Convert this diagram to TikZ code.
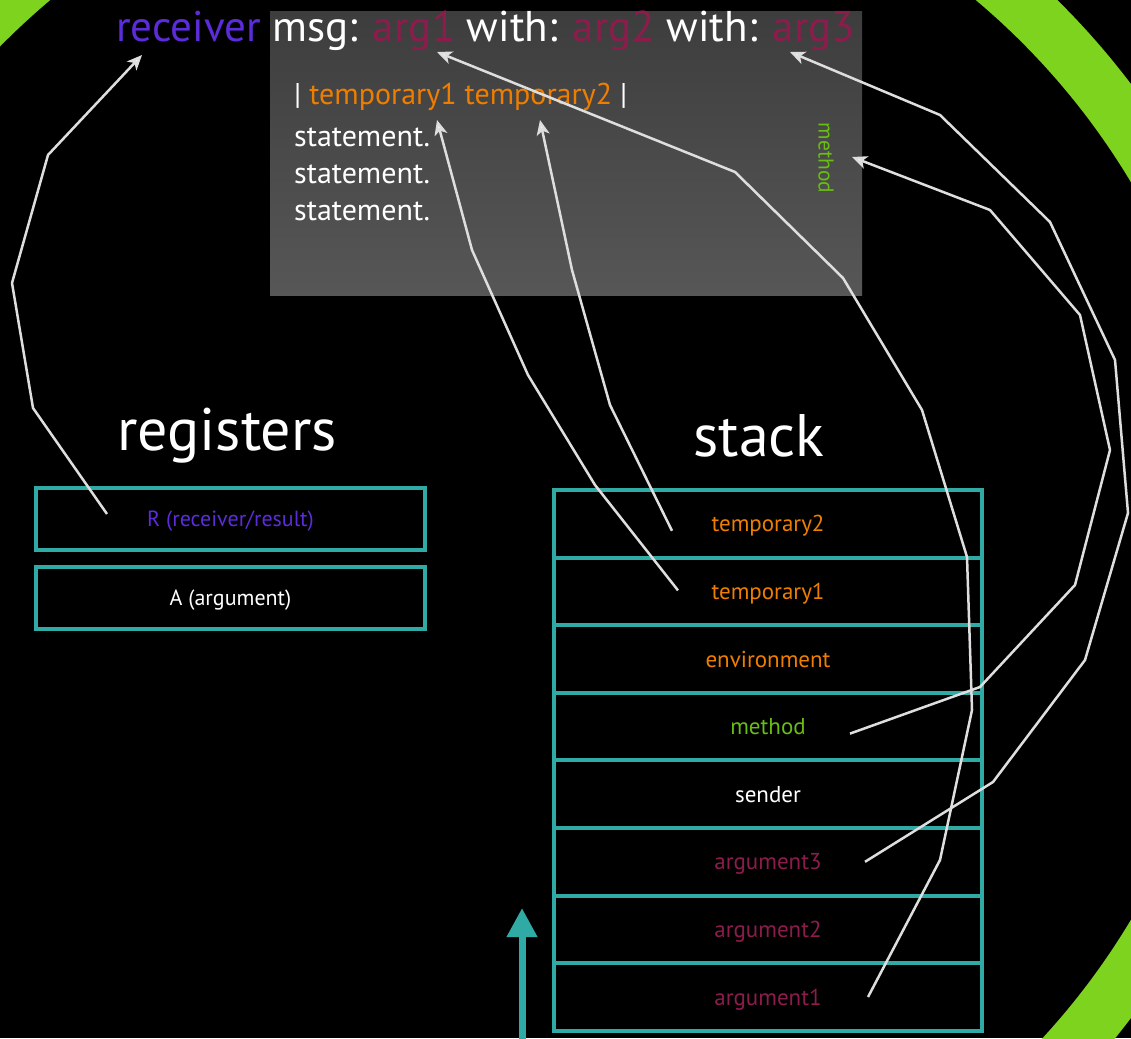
\documentclass[tikz,border=0pt]{standalone}
\usepackage{fontspec}
\setmainfont{PT Sans}
\usetikzlibrary{arrows.meta}

\definecolor{ringgreen}{RGB}{126,211,30}
\definecolor{slotteal}{RGB}{48,170,164}
\definecolor{recvpurple}{RGB}{92,44,218}
\definecolor{argred}{RGB}{140,28,76}
\definecolor{tmporange}{RGB}{238,126,0}
\definecolor{methgreen}{RGB}{104,190,18}
\definecolor{linkgray}{RGB}{222,222,222}

\def\cellw{428}
\def\cellh{67.6}

\begin{document}
\begin{tikzpicture}[x=1pt,y=-1pt,
    cell/.style={draw=slotteal,line width=4pt,minimum width=\cellw pt,
      minimum height=\cellh pt,inner sep=0pt,outer sep=0pt,text depth=0pt,
      font=\fontsize{23}{26}\selectfont},
    reg/.style={cell,minimum width=389pt,minimum height=62pt,
      font=\fontsize{22}{26}\selectfont},
    link/.style={draw=linkgray,line width=2.5pt,line join=round,
      -{Stealth[length=15pt,width=13pt,inset=4pt,fill=white]}},
    heading/.style={text=white,font=\fontsize{60}{64}\selectfont},
    code/.style={anchor=base west,inner sep=0pt,text=white,
      font=\fontsize{30}{34}\selectfont}]

  % background and ring
  \useasboundingbox (0,0) rectangle (1131,1038);
  \fill[black] (0,0) rectangle (1131,1038);
  \begin{scope}
    \clip (0,0) rectangle (1131,1038);
    \draw[ringgreen,line width=55pt] (513,551) circle[radius=747pt];
  \end{scope}

  % method source
  \node[top color=black!76,bottom color=black!66,minimum width=592pt,
    minimum height=283pt,inner sep=0pt] (body) at (566,153.5) {};
  \node[anchor=base west,inner sep=0pt,text=white,
    font=\fontsize{43}{46}\selectfont] (sig) at (116,42)
    {\textcolor{recvpurple}{receiver} msg: \textcolor{argred}{arg1}
     with: \textcolor{argred}{arg2} with: \textcolor{argred}{arg3}};
  \node[code] (temps) at (294,105)
    {| \textcolor{tmporange}{temporary1 temporary2} |};
  \node[code] (st1) at (294,146) {statement.};
  \node[code] (st2) at (294,183) {statement.};
  \node[code] (st3) at (294,220) {statement.};
  \node[rotate=-90,text=methgreen,font=\fontsize{21.5}{24}\selectfont]
    (mlabel) at (826,158) {method};

  \coordinate (tRecv) at (142,55);
  \coordinate (tArg1) at (437,52);
  \coordinate (tArg3) at (790,52);
  \coordinate (tTmp1) at (437,120);
  \coordinate (tTmp2) at (540,120);
  \coordinate (tMeth) at (852,157);

  % registers
  \node[heading] (reghead) at (227,436) {registers};
  \node[reg,text=recvpurple] (R) at (230.5,519) {R (receiver/result)};
  \node[reg,text=white] (A) at (230.5,598) {A (argument)};

  % stack
  \node[heading] (stackhead) at (759,436) {stack};
  \foreach \lbl/\col/\nm [count=\i from 0] in
    {temporary2/tmporange/t2,temporary1/tmporange/t1,
     environment/tmporange/env,method/methgreen/meth,sender/white/snd,
     argument3/argred/a3,argument2/argred/a2,argument1/argred/a1}
    \node[cell,text=\col] (\nm) at (768,{490+\cellh*\i+\cellh/2}) {\lbl};

  \coordinate (growBase) at (522,1045);
  \coordinate (growTip) at (522,908);
  \draw[slotteal,line width=7pt,-{Triangle[length=29pt,width=29pt]}]
    (growBase) -- (growTip);

  % links
  \draw[link] ([shift={(-123.5,-5)}]R.center) -- (33,408) -- (12,283)
    -- (48,155) -- (tRecv);
  \draw[link] ([shift={(-96,7)}]t2.center) -- (610,405) -- (572,270)
    -- (tTmp2);
  \draw[link] ([shift={(-90,-1)}]t1.center) -- (595,485) -- (528,375)
    -- (472,250) -- (tTmp1);
  \draw[link] ([shift={(82,7)}]meth.center) -- (980,687) -- (1075,585)
    -- (1110,450) -- (1080,315) -- (990,210) -- (tMeth);
  \draw[link] ([shift={(97,0)}]a3.center) -- (993,782) -- (1085,660)
    -- (1128,513) -- (1115,360) -- (1050,222) -- (940,115) -- (tArg3);
  \draw[link] ([shift={(100,0)}]a1.center) -- (940,860) -- (972,710)
    -- (967,557) -- (922,410) -- (843,278) -- (735,172) -- (tArg1);
\end{tikzpicture}
\end{document}
